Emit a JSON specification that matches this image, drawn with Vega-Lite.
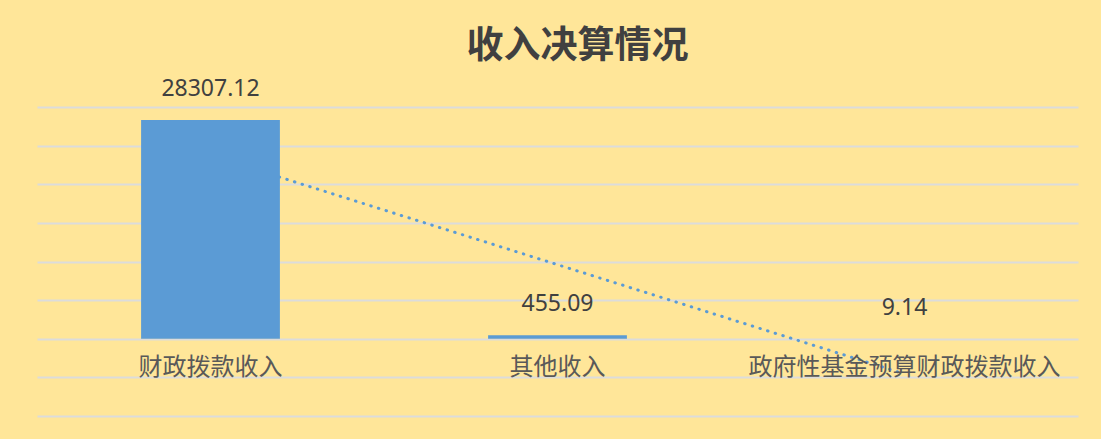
{
  "$schema": "https://vega.github.io/schema/vega-lite/v6.json",
  "width": 1041,
  "height": 309,
  "autosize": {"type": "none"},
  "padding": {"left": 37, "top": 107, "right": 23, "bottom": 23},
  "background": "#FFE699",
  "title": {
    "text": "收入决算情况",
    "font": "Noto Sans CJK SC",
    "fontSize": 37,
    "fontWeight": "bold",
    "color": "#404040",
    "anchor": "middle",
    "offset": 12,
    "dx": 20
  },
  "config": {
    "view": {"stroke": null},
    "axisY": {
      "values": [-10000, -5000, 0, 5000, 10000, 15000, 20000, 25000, 30000],
      "labels": false,
      "ticks": false,
      "domain": false,
      "title": null,
      "grid": true,
      "gridColor": "#DCDCDC",
      "gridWidth": 2
    }
  },
  "data": {
    "values": [
      {"category": "财政拨款收入", "value": 28307.12, "label": "28307.12", "trend": 23740},
      {"category": "其他收入", "value": 455.09, "label": "455.09", "trend": 9590},
      {"category": "政府性基金预算财政拨款收入", "value": 9.14, "label": "9.14", "trend": -4560}
    ]
  },
  "encoding": {
    "x": {
      "field": "category",
      "type": "nominal",
      "sort": null,
      "scale": {"paddingInner": 0.6, "paddingOuter": 0.3},
      "axis": null
    }
  },
  "layer": [
    {
      "mark": {"type": "line", "color": "#5B9BD5", "strokeWidth": 3, "strokeDash": [0.5, 7.5], "strokeCap": "round"},
      "encoding": {
        "y": {
          "field": "trend",
          "type": "quantitative",
          "title": null,
          "scale": {"domain": [-10000, 30000], "nice": false, "zero": false},
          "axis": {"values": [-10000, -5000, 0, 5000, 10000, 15000, 20000, 25000, 30000], "title": null}
        }
      }
    },
    {
      "mark": {"type": "bar", "color": "#5B9BD5"},
      "encoding": {
        "y": {"field": "value", "type": "quantitative", "title": null, "axis": {"values": [-10000, -5000, 0, 5000, 10000, 15000, 20000, 25000, 30000], "title": null}},
        "y2": {"datum": 0}
      }
    },
    {
      "mark": {"type": "text", "font": "Noto Sans", "fontSize": 23, "color": "#404040", "baseline": "middle", "dy": -31},
      "encoding": {
        "y": {"field": "value", "type": "quantitative", "title": null, "axis": {"values": [-10000, -5000, 0, 5000, 10000, 15000, 20000, 25000, 30000], "title": null}},
        "text": {"field": "label"}
      }
    },
    {
      "mark": {"type": "text", "font": "Noto Sans CJK SC", "fontSize": 24, "color": "#595959", "baseline": "middle", "dy": 29},
      "encoding": {
        "y": {"datum": 0, "type": "quantitative", "axis": {"values": [-10000, -5000, 0, 5000, 10000, 15000, 20000, 25000, 30000], "title": null}},
        "text": {"field": "category"}
      }
    }
  ]
}
